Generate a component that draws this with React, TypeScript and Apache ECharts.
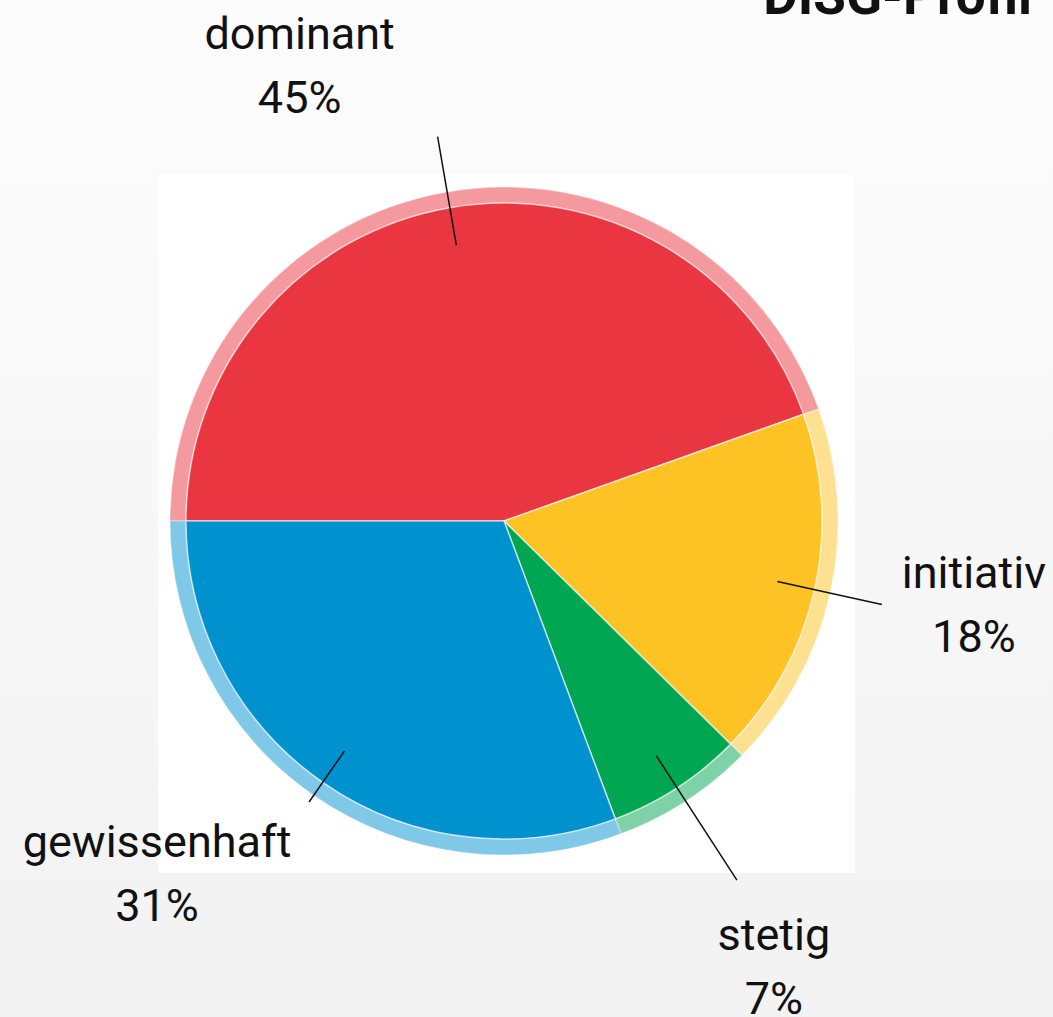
import React, { useEffect, useRef } from 'react';
import * as echarts from 'echarts';

// ---- data ----
const categories: string[] = ['dominant', 'initiativ', 'stetig', 'gewissenhaft'];
const values: number[] = [45, 18, 7, 31];
const chartTitle = 'DISG-Profil';

// ---- styles / label placement ----
const colors: string[] = ['#EA3640', '#FDC224', '#00A651', '#0091CF'];
const lineLengths: number[] = [110, 107, 148, 62];
const labelOffsets: number[][] = [[-138, -7], [92, 0], [37, 22], [-152, 8]];
const labelVAlign: string[] = ['bottom', 'middle', 'top', 'top'];

export default function App() {
  const ref = useRef<HTMLDivElement>(null);

  useEffect(() => {
    if (!ref.current) return;
    const chart = echarts.init(ref.current, undefined, { renderer: 'svg' });

    const center = [504, 521];
    const baseData = categories.map((name, i) => ({
      name,
      value: values[i],
      itemStyle: { color: colors[i] },
    }));

    const option: any = {
      animation: false,
      backgroundColor: new echarts.graphic.LinearGradient(0, 0, 0, 1, [
        { offset: 0, color: '#fcfcfc' },
        { offset: 1, color: '#f1f2f1' },
      ]),
      graphic: [
        {
          type: 'rect',
          z: 0,
          shape: { x: 158, y: 175, width: 697, height: 698 },
          style: { fill: '#ffffff' },
          silent: true,
        },
        {
          type: 'text',
          z: 10,
          x: 1032,
          y: -4,
          style: {
            text: chartTitle,
            fill: '#111111',
            font: 'bold 53px Roboto',
            align: 'right',
            verticalAlign: 'middle',
          },
        },
      ],
      series: [
        {
          type: 'pie',
          z: 2,
          center,
          radius: [318, 334],
          startAngle: 180,
          clockwise: true,
          silent: true,
          label: { show: false },
          labelLine: { show: false },
          itemStyle: { opacity: 0.5, borderColor: 'rgba(255,255,255,0.6)', borderWidth: 1.5 },
          data: baseData,
        },
        {
          type: 'pie',
          z: 3,
          center,
          radius: [0, 318],
          startAngle: 180,
          clockwise: true,
          silent: true,
          label: { show: false },
          labelLine: { show: false },
          itemStyle: { borderColor: 'rgba(255,255,255,0.6)', borderWidth: 1.5 },
          data: baseData,
        },
        {
          type: 'pie',
          z: 4,
          center,
          radius: [0, 280],
          startAngle: 180,
          clockwise: true,
          silent: true,
          avoidLabelOverlap: false,
          itemStyle: { color: 'transparent' },
          label: {
            show: true,
            position: 'outside',
            formatter: '{b}\n{c}%',
            fontFamily: 'Roboto',
            fontSize: 45,
            lineHeight: 64,
            color: '#111111',
          },
          labelLine: {
            show: true,
            length2: 0,
            smooth: false,
            lineStyle: { color: '#111111', width: 1.5 },
          },
          labelLayout: (params: any) => {
            const i = params.dataIndex;
            const pts = params.labelLinePoints;
            if (!pts) return {};
            const end = pts[pts.length - 1];
            return {
              x: end[0] + labelOffsets[i][0],
              y: end[1] + labelOffsets[i][1],
              align: 'center',
              verticalAlign: labelVAlign[i],
              labelLinePoints: pts,
            };
          },
          data: categories.map((name, i) => ({
            name,
            value: values[i],
            labelLine: { length: lineLengths[i] },
          })),
        },
      ],
    };

    chart.setOption(option);
    return () => chart.dispose();
  }, []);

  return (
    <div
      ref={ref}
      style={{ position: 'fixed', left: 0, top: 0, width: 1053, height: 1017 }}
    />
  );
}
